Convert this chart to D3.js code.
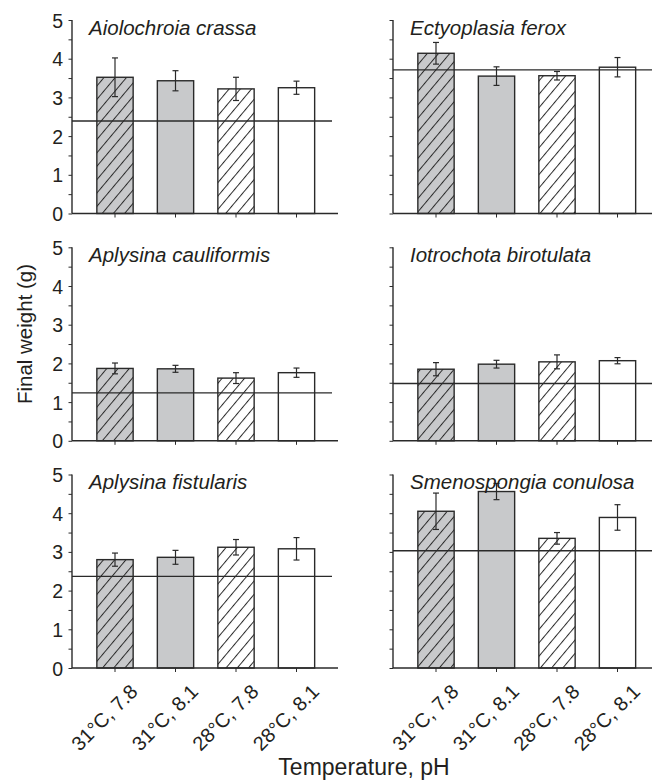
<!DOCTYPE html>
<html>
<head>
<meta charset="utf-8">
<script src="https://cdn.jsdelivr.net/npm/d3@7"></script>
<style>
  html, body { margin: 0; padding: 0; background: #fff; }
  svg { display: block; }
  text { font-family: "Liberation Sans", Arial, Helvetica, sans-serif; fill: #231f20; }
</style>
</head>
<body>
<div id="chart"></div>
<script>
// Treatments (temperature, pH)
const categories = ["31°C, 7.8", "31°C, 8.1", "28°C, 7.8", "28°C, 8.1"];
// Sponge species, one panel each (row-major order)
const species = ["Aiolochroia crassa", "Ectyoplasia ferox", "Aplysina cauliformis",
                 "Iotrochota birotulata", "Aplysina fistularis", "Smenospongia conulosa"];
// Mean final weight (g) per treatment
const meanWeight = [
  [3.52, 3.43, 3.22, 3.25],
  [4.14, 3.55, 3.56, 3.78],
  [1.87, 1.86, 1.62, 1.76],
  [1.85, 1.98, 2.04, 2.07],
  [2.80, 2.86, 3.12, 3.08],
  [4.05, 4.56, 3.35, 3.89]
];
// Standard error of final weight (g)
const errWeight = [
  [0.50, 0.26, 0.30, 0.17],
  [0.28, 0.24, 0.11, 0.25],
  [0.14, 0.09, 0.14, 0.12],
  [0.17, 0.10, 0.18, 0.08],
  [0.17, 0.18, 0.20, 0.29],
  [0.47, 0.21, 0.15, 0.33]
];
// Mean initial weight (g), drawn as horizontal reference line
const initialWeight = [2.39, 3.71, 1.24, 1.48, 2.37, 3.03];
// Y-axis ticks
const yTicks = [0, 1, 2, 3, 4, 5];

const W = 652, H = 780;
const ink = "#2a2a2a";
const grayFill = "#c8c9cb";

const svg = d3.select("#chart").append("svg")
  .attr("width", W).attr("height", H);

// Hatch patterns: diagonal "/" lines on gray and on white
const defs = svg.append("defs");
[["hatchGray", grayFill], ["hatchWhite", "#fff"]].forEach(([id, bg]) => {
  const p = defs.append("pattern")
    .attr("id", id)
    .attr("patternUnits", "userSpaceOnUse")
    .attr("width", 8.6).attr("height", 10)
    .attr("patternTransform", "rotate(40)");
  p.append("rect").attr("width", 8.6).attr("height", 10).attr("fill", bg);
  p.append("line").attr("x1", 0.5).attr("y1", 0).attr("x2", 0.5).attr("y2", 10)
    .attr("stroke", ink).attr("stroke-width", 1);
});
const barFill = ["url(#hatchGray)", grayFill, "url(#hatchWhite)", "#fff"];

const colX = [72, 393];
const rowBase = [213.5, 440.8, 668];
const panelH = 193.5;
const axisLen = 266;

species.forEach((name, k) => {
  const col = k % 2, row = Math.floor(k / 2);
  const x0 = colX[col], yb = rowBase[row];
  const g = svg.append("g");

  const y = d3.scaleLinear().domain([0, 5]).range([yb, yb - panelH]);
  const x = d3.scaleBand().domain(categories)
    .range([x0 + 12.75, x0 + 254.75])
    .paddingInner(0.4).paddingOuter(0.2);

  // bars
  g.selectAll("rect.bar").data(categories).join("rect")
    .attr("class", "bar")
    .attr("x", c => x(c))
    .attr("width", x.bandwidth())
    .attr("y", (c, i) => y(meanWeight[k][i]))
    .attr("height", (c, i) => yb - y(meanWeight[k][i]))
    .attr("fill", (c, i) => barFill[i])
    .attr("stroke", ink).attr("stroke-width", 1.4);

  // initial weight reference line
  g.append("line")
    .attr("x1", x0).attr("x2", x0 + 260)
    .attr("y1", y(initialWeight[k])).attr("y2", y(initialWeight[k]))
    .attr("stroke", ink).attr("stroke-width", 1.3);

  // error bars
  const eb = g.selectAll("g.err").data(categories).join("g").attr("class", "err")
    .attr("transform", c => `translate(${x(c) + x.bandwidth() / 2},0)`);
  eb.append("line")
    .attr("y1", (c, i) => y(meanWeight[k][i] + errWeight[k][i]))
    .attr("y2", (c, i) => y(meanWeight[k][i] - errWeight[k][i]))
    .attr("stroke", ink).attr("stroke-width", 1.2);
  [1, -1].forEach(s => {
    eb.append("line")
      .attr("x1", -3).attr("x2", 3)
      .attr("y1", (c, i) => y(meanWeight[k][i] + s * errWeight[k][i]))
      .attr("y2", (c, i) => y(meanWeight[k][i] + s * errWeight[k][i]))
      .attr("stroke", ink).attr("stroke-width", 1.2);
  });

  // y axis: major ticks with labels on the left column, minor ticks every 0.5
  const yAxis = d3.axisLeft(y).tickValues(d3.range(0, 5.01, 0.5))
    .tickSize(3.5)
    .tickFormat(d => (col === 0 && yTicks.includes(d)) ? d3.format("d")(d) : "");
  const ya = g.append("g").attr("transform", `translate(${x0},0)`).call(yAxis);
  ya.select(".domain").attr("stroke", ink).attr("stroke-width", 1.4)
    .attr("d", `M0,${y(5)}V${y(0)}`);
  ya.selectAll(".tick line").attr("stroke", ink).attr("stroke-width", 1);
  ya.selectAll(".tick text").attr("x", -9).attr("dy", "0.36em")
    .style("font-size", "19.5px").attr("fill", "#231f20");

  // x axis: baseline plus ticks under each bar
  const xAxis = d3.axisBottom(x).tickSize(4).tickSizeOuter(0)
    .tickFormat(row === 2 ? (d => d) : "");
  const xa = g.append("g").attr("transform", `translate(0,${yb})`).call(xAxis);
  xa.select(".domain").attr("stroke", ink).attr("stroke-width", 1.4)
    .attr("d", `M${x0},0H${x0 + axisLen}`);
  xa.selectAll(".tick line").attr("stroke", ink).attr("stroke-width", 1);
  if (row === 2) {
    xa.selectAll(".tick text")
      .attr("text-anchor", "end")
      .attr("transform", "translate(9,10) rotate(-45)")
      .attr("dy", "0.7em")
      .style("font-size", "20px").attr("fill", "#231f20");
  }

  // species name
  g.append("text")
    .attr("x", x0 + 17).attr("y", y(5) + 14.5)
    .style("font-size", "20.5px").style("font-style", "italic")
    .text(name);
});

// axis titles
svg.append("text")
  .attr("transform", "translate(32,334) rotate(-90)")
  .attr("text-anchor", "middle")
  .style("font-size", "20.5px")
  .text("Final weight (g)");

svg.append("text")
  .attr("x", 364).attr("y", 775)
  .attr("text-anchor", "middle")
  .style("font-size", "23px")
  .text("Temperature, pH");
</script>
</body>
</html>
